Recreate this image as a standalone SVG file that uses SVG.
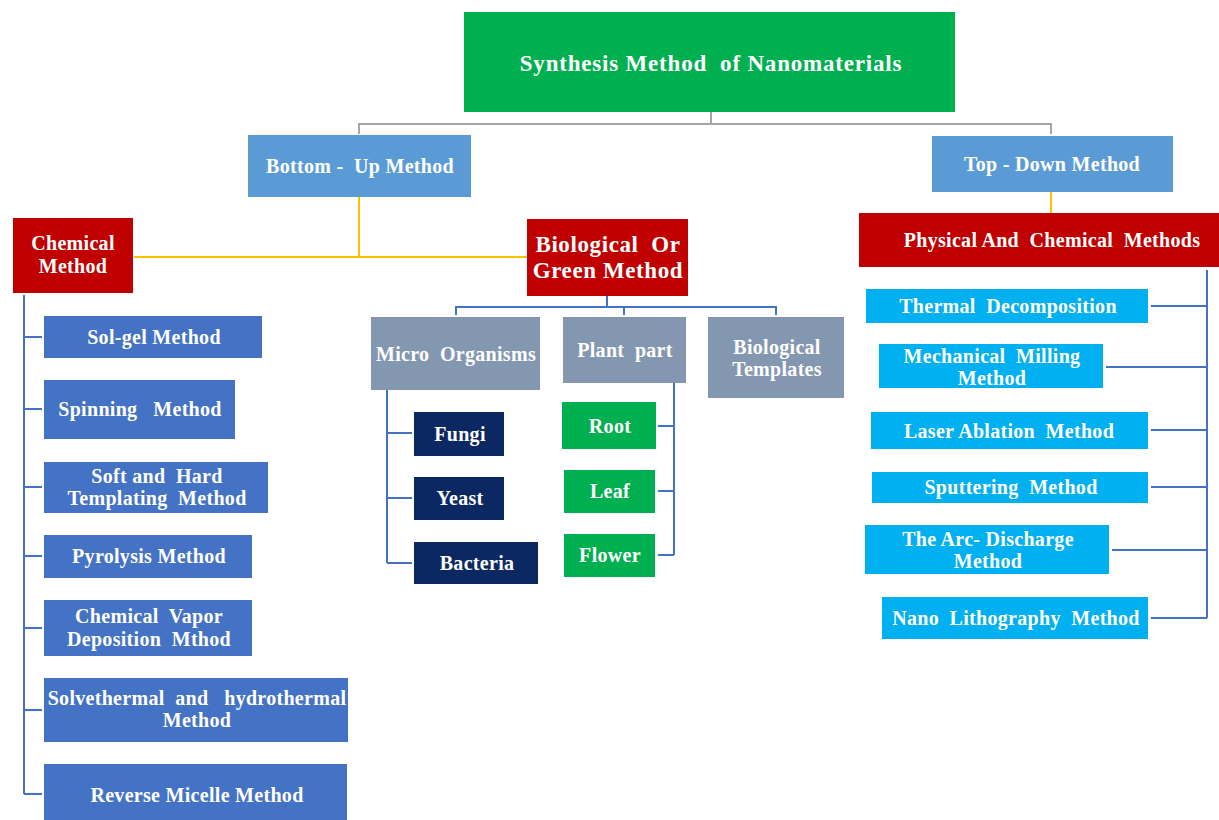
<svg xmlns="http://www.w3.org/2000/svg" width="1219" height="820" viewBox="0 0 1219 820">
<style>
text{font-family:"Liberation Serif","Times New Roman",serif;font-weight:bold;fill:#fff;text-anchor:middle;font-size:20px;letter-spacing:0.3px;white-space:pre}
.t{font-size:23px;letter-spacing:0.8px}
.bg{font-size:23px;letter-spacing:0.6px}
.g{fill:none;stroke:#a5a5a5;stroke-width:2}
.y{fill:none;stroke:#ffc000;stroke-width:2}
.b{fill:none;stroke:#4472c4;stroke-width:2}
.green{fill:#00b050}.lb{fill:#5b9bd5}.red{fill:#c00000}.db{fill:#4472c4}.cy{fill:#00b0f0}.gb{fill:#8497b0}.nv{fill:#0b2862}
</style>
<rect width="1219" height="820" fill="#fff"/>
<g id="connectors">
<path class="g" d="M711 112V124M359 134V124H1051V134"/>
<path class="y" d="M359 197V257M134 257H527M1051 191V213"/>
<path class="b" d="M1207 270V618M1151 306H1207M1106 367H1207M1151 430H1207M1151 487H1207M1112 550H1207M1151 618H1207"/>
<path class="b" d="M24 295V794M24 337H42M24 409H42M24 487H42M24 556H42M24 628H42M24 710H42M24 794H42"/>
<path class="b" d="M607 296V307M456 315V307H776V315M624 307V315"/>
<path class="b" d="M387 390V563M387 433H412M387 498H412M387 563H412"/>
<path class="b" d="M674 383V555M658 426H674M658 491H674M658 555H674"/>
</g>
<g id="title"><rect class="green" x="464" y="12" width="491" height="100"/><text class="t" x="711" y="71">Synthesis Method  of Nanomaterials</text></g>
<g id="bottom-up"><rect class="lb" x="248" y="135" width="223" height="62"/><text x="360" y="173">Bottom -  Up Method</text></g>
<g id="top-down"><rect class="lb" x="932" y="136" width="241" height="56"/><text x="1052" y="171">Top - Down Method</text></g>
<g id="chemical"><rect class="red" x="13" y="218" width="120" height="75"/><text x="73" y="250">Chemical</text><text x="73" y="273">Method</text></g>
<g id="biological"><rect class="red" x="527" y="219" width="161" height="77"/><text class="bg" x="608" y="252">Biological  Or</text><text class="bg" x="608" y="278">Green Method</text></g>
<g id="physical"><rect class="red" x="859" y="213" width="360" height="54"/><text x="1052" y="247">Physical And  Chemical  Methods</text></g>
<g id="sol-gel"><rect class="db" x="44" y="316" width="218" height="42"/><text x="154" y="344">Sol-gel Method</text></g>
<g id="spinning"><rect class="db" x="44" y="380" width="191" height="59"/><text x="140" y="416">Spinning   Method</text></g>
<g id="templating"><rect class="db" x="44" y="462" width="224" height="51"/><text x="157" y="483">Soft and  Hard</text><text x="157" y="505">Templating  Method</text></g>
<g id="pyrolysis"><rect class="db" x="44" y="535" width="208" height="43"/><text x="149" y="563">Pyrolysis Method</text></g>
<g id="cvd"><rect class="db" x="44" y="600" width="208" height="56"/><text x="149" y="623">Chemical  Vapor</text><text x="149" y="646">Deposition  Mthod</text></g>
<g id="solvothermal"><rect class="db" x="44" y="678" width="304" height="64"/><text x="197" y="705">Solvethermal  and   hydrothermal</text><text x="197" y="727">Method</text></g>
<g id="micelle"><rect class="db" x="44" y="764" width="303" height="60"/><text x="197" y="802">Reverse Micelle Method</text></g>
<g id="micro"><rect class="gb" x="371" y="317" width="169" height="73"/><text x="456" y="361">Micro  Organisms</text></g>
<g id="plant"><rect class="gb" x="563" y="317" width="123" height="66"/><text x="625" y="357">Plant  part</text></g>
<g id="templates"><rect class="gb" x="708" y="317" width="136" height="81"/><text x="777" y="354">Biological</text><text x="777" y="376">Templates</text></g>
<g id="fungi"><rect class="nv" x="414" y="412" width="90" height="44"/><text x="460" y="441">Fungi</text></g>
<g id="yeast"><rect class="nv" x="414" y="477" width="90" height="43"/><text x="460" y="505">Yeast</text></g>
<g id="bacteria"><rect class="nv" x="414" y="542" width="124" height="42"/><text x="477" y="570">Bacteria</text></g>
<g id="root"><rect class="green" x="562" y="402" width="94" height="47"/><text x="610" y="433">Root</text></g>
<g id="leaf"><rect class="green" x="564" y="470" width="91" height="43"/><text x="610" y="498">Leaf</text></g>
<g id="flower"><rect class="green" x="564" y="534" width="91" height="43"/><text x="610" y="562">Flower</text></g>
<g id="thermal"><rect class="cy" x="866" y="289" width="282" height="34"/><text x="1008" y="313">Thermal  Decomposition</text></g>
<g id="milling"><rect class="cy" x="879" y="344" width="224" height="44"/><text x="992" y="363">Mechanical  Milling</text><text x="992" y="385">Method</text></g>
<g id="laser"><rect class="cy" x="871" y="412" width="277" height="37"/><text x="1009" y="438">Laser Ablation  Method</text></g>
<g id="sputtering"><rect class="cy" x="872" y="472" width="276" height="31"/><text x="1011" y="494">Sputtering  Method</text></g>
<g id="arc"><rect class="cy" x="865" y="525" width="244" height="49"/><text x="988" y="546">The Arc- Discharge</text><text x="988" y="568">Method</text></g>
<g id="litho"><rect class="cy" x="882" y="597" width="266" height="42"/><text x="1016" y="625">Nano  Lithography  Method</text></g>
</svg>
